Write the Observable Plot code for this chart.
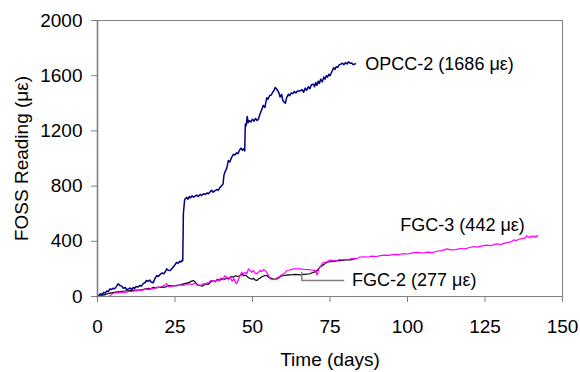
<!DOCTYPE html>
<html>
<head>
<meta charset="utf-8">
<script src="https://cdn.jsdelivr.net/npm/d3@7"></script>
<script src="https://cdn.jsdelivr.net/npm/@observablehq/plot@0.6"></script>
<style>
  html, body { margin: 0; padding: 0; background: #fff; }
</style>
</head>
<body>
<div id="chart"></div>
<script>
// OPCC-2 (blue)
const opccDays = [0,0.5,1,1.5,2,2.5,3,3.5,4,4.5,5,5.5,6,6.7,7.2,7.8,8.3,9,9.4,10,10.5,11,11.5,12,12.5,13,13.7,14.2,14.8,15.3,15.8,16.3,16.8,17.3,18,18.5,19.1,19.6,20.2,20.8,21.4,22,22.3,22.8,23.4,23.9,24.5,25,25.5,26,26.5,27,27.3,27.5,27.6,27.7,27.9,28.1,28.4,28.8,29.2,29.6,30,30.5,31,31.5,32,32.5,33.1,33.6,34.2,34.8,35.3,35.8,36.3,36.8,37.3,37.8,38.5,39,39.5,40.1,40.5,40.8,41.2,41.7,42.2,42.7,43.2,43.8,44.3,44.8,45.3,45.8,46.3,46.8,47.2,47.5,47.6,47.7,48,48.3,48.6,49,49.5,50,50.5,51,51.5,51.9,52.4,52.9,53.5,54,54.6,55,55.5,56,56.5,57,57.3,57.7,58.2,58.6,58.9,59.4,59.8,60.2,60.6,61,61.6,62,62.5,63,63.5,64,64.5,65.4,66,66.5,67,67.5,68,68.5,69,69.7,70,70.4,70.8,71.2,71.6,72,72.5,73,73.4,73.8,74.2,74.6,75,75.5,76.2,76.6,77,77.5,78,78.3,79,79.5,80,80.5,81,81.5,82,82.5,83.2];
const opccVals = [0,10,20,15,30,25,40,35,55,50,60,55,70,92,80,75,60,65,50,55,62,50,65,60,72,68,80,75,95,100,116,110,120,105,100,130,152,145,160,170,165,185,200,190,188,200,215,230,248,240,255,250,262,260,420,600,650,700,710,718,705,725,715,730,720,728,735,725,740,732,745,740,750,745,758,770,755,765,775,770,790,805,815,880,905,930,985,975,1005,1030,1025,1040,1035,1060,1075,1060,1070,1055,1180,1250,1240,1305,1260,1275,1265,1285,1270,1290,1275,1285,1320,1350,1385,1370,1440,1430,1455,1460,1480,1495,1515,1505,1490,1470,1445,1465,1420,1410,1400,1440,1466,1455,1475,1470,1485,1475,1490,1490,1500,1480,1510,1495,1520,1505,1535,1538,1520,1550,1530,1560,1545,1575,1555,1590,1575,1600,1590,1610,1600,1625,1658,1645,1665,1660,1680,1682,1690,1680,1695,1685,1700,1690,1692,1680,1687];

// FGC-3 (magenta)
const fgc3Days = [0,1,2,3,4,4.5,5,5.6,6.5,7,8,9.4,10,11,12,13,13.7,14.5,15.5,16.5,17.5,18,19,20,21,22,22.3,22.8,23.5,24.5,25.5,26.5,27.5,28.8,29.5,30.5,31.5,32.3,33.1,34,35,36,36.5,37.4,38,38.5,39.2,39.8,40.5,41,41.7,42.2,42.8,43.4,44,44.5,44.9,45.5,46,46.5,47,47.6,48.2,48.7,49.2,49.8,50.3,50.9,51.4,52,52.5,53,53.5,54.1,54.6,55.2,55.7,56.3,56.8,57.3,57.9,58.5,59,60,60.6,61.1,61.6,62.5,63.2,64,65.4,66,67,68,69,69.7,70.2,70.5,70.8,71.2,71.6,72,72.5,73,73.5,74,74.5,75.1,76,77,77.3,78,79,80,81,81.6,82.5,83.5,84.5,86,87.5,88.5,90,91.3,92.5,94,95.5,97,98.5,100,101,102,103.5,105,106.5,108,109.5,111,112.8,114,115.5,117,118.5,120,121.4,122.5,124,125.5,127,128,129,130,131,132.5,133.5,134.4,135,136,137,138,138.5,139,139.5,140,140.5,141,141.4,142];
const fgc3Vals = [0,2,5,0,3,15,22,27,25,32,30,31,38,35,42,40,48,45,55,50,62,55,68,65,75,85,95,70,72,78,76,85,80,85,92,88,95,82,80,90,95,100,115,116,105,125,110,135,120,150,140,120,145,110,130,100,92,125,150,176,160,176,165,200,188,175,190,170,164,178,188,180,195,188,175,150,128,125,121,125,135,140,150,164,175,188,190,195,200,200,200,198,196,195,192,190,188,175,155,180,210,220,240,248,245,252,258,265,258,262,260,268,266,270,268,272,275,272,285,288,286,292,290,296,300,298,305,303,310,308,312,318,320,315,322,318,328,332,345,338,340,348,345,355,362,358,365,372,368,378,381,375,385,392,398,410,405,415,420,425,440,432,425,440,430,440,429,442];

// FGC-2 (black)
const fgc2Days = [0,1,2,3,4,5,6,7,8,9,10,11,12,13,13.7,14.5,15.5,16.5,17,18,19,20,21,22.3,23,24,25,26,26.6,27.5,28.5,29.5,30.2,30.9,31.5,32,32.5,33.1,33.8,34.5,35.1,35.8,36.5,37.4,38,38.8,39.5,40.2,41,41.8,42.5,43.2,43.8,44.5,45.2,46,46.6,47.2,47.8,48.5,49.2,49.8,50.3,50.8,51.4,52,52.6,53.2,54,54.6,55.2,55.7,56.5,57.2,57.9,58.5,59,60,61,62,63,64,65.4,66.5,67.5,68.5,69.7,70.2,70.8,71.3,71.8,72.5,73,73.5,74,75,76.2,77,77.8,79,80,81,81.6,82.5,83.2];
const fgc2Vals = [0,5,12,18,24,28,32,35,38,40,42,44,46,47,48,50,55,60,52,67,62,68,65,72,80,75,78,82,85,90,95,100,110,116,105,90,82,80,75,85,92,88,105,116,108,125,118,130,125,135,130,145,140,150,145,152,160,150,155,140,130,125,132,120,116,128,135,145,152,152,140,135,128,125,128,135,145,152,155,157,158,160,157,160,162,165,176,178,188,200,215,225,231,240,248,252,255,258,260,262,265,266,265,270,277];

// Labels
const labelText = ["OPCC-2 (1686 με)", "FGC-3 (442 με)", "FGC-2 (277 με)"];
const labelDay = [86.4, 97.7, 82.1];
const labelVal = [1685, 513, 121];

// Leader line for FGC-2 label
const leaderDay = [65.9, 65.9, 79.4];
const leaderVal = [176, 116, 116];

const xTicks = [0, 25, 50, 75, 100, 125, 150];
const yTicks = [0, 400, 800, 1200, 1600, 2000];

const toRows = (ds, vs) => ds.map((d, i) => ({day: d, v: vs[i]}));
const opcc = toRows(opccDays, opccVals);
const fgc3 = toRows(fgc3Days, fgc3Vals);
const fgc2 = toRows(fgc2Days, fgc2Vals);
const labels = labelText.map((t, i) => ({t, day: labelDay[i], v: labelVal[i]}));
const leader = toRows(leaderDay, leaderVal);

const font = "'Liberation Sans', Arial, sans-serif";
const fmt = d => String(d);

const chart = Plot.plot({
  width: 580,
  height: 372,
  marginLeft: 97,
  marginRight: 18,
  marginTop: 20,
  marginBottom: 76,
  style: {fontFamily: font, fontSize: "19px", background: "#fff", color: "#000", overflow: "visible"},
  x: {domain: [0, 150], axis: null},
  y: {domain: [0, 2000], axis: null},
  marks: [
    Plot.ruleY([2000], {stroke: "#808080", strokeWidth: 1}),
    Plot.ruleX([150], {stroke: "#808080", strokeWidth: 1}),
    Plot.axisX({ticks: xTicks, tickFormat: fmt, tickSize: 6, tickPadding: 17, stroke: "#808080", fill: "#000", label: null, fontSize: 19}),
    Plot.axisY({ticks: yTicks, tickFormat: fmt, tickSize: 6, tickPadding: 9, stroke: "#808080", fill: "#000", label: null, fontSize: 19}),
    Plot.line(fgc2, {x: "day", y: "v", stroke: "#000000", strokeWidth: 1.2}),
    Plot.line(fgc3, {x: "day", y: "v", stroke: "#ff00ff", strokeWidth: 1.2}),
    Plot.line(opcc, {x: "day", y: "v", stroke: "#000080", strokeWidth: 1.5}),
    Plot.ruleX([0], {stroke: "#808080", strokeWidth: 1.6}),
    Plot.ruleY([0], {stroke: "#808080", strokeWidth: 1.2}),
    Plot.line(leader, {x: "day", y: "v", stroke: "#808080", strokeWidth: 1.5}),
    Plot.text(labels, {x: "day", y: "v", text: "t", textAnchor: "start", lineAnchor: "middle", fill: "#000", fontSize: 18}),
    Plot.text(["Time (days)"], {frameAnchor: "bottom", dy: 63, textAnchor: "middle", lineAnchor: "middle", fill: "#000", fontSize: 19}),
    Plot.text(["FOSS Reading (με)"], {frameAnchor: "left", dx: -76, rotate: -90, textAnchor: "middle", lineAnchor: "middle", fill: "#000", fontSize: 19})
  ]
});
document.getElementById("chart").appendChild(chart);
</script>
</body>
</html>
